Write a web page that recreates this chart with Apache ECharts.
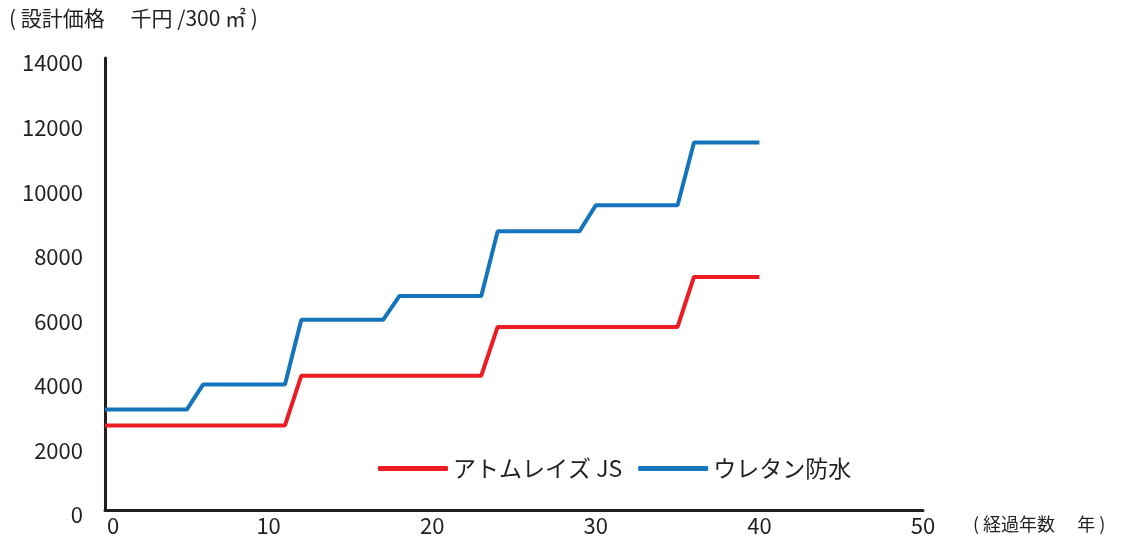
<!DOCTYPE html>
<html>
<head>
<meta charset="utf-8">
<script src="https://cdn.jsdelivr.net/npm/echarts@6/dist/echarts.min.js"></script>
<style>
  html, body { margin: 0; padding: 0; background: #fff; }
  #chart { width: 1128px; height: 538px; }
</style>
</head>
<body>
<div id="chart"></div>
<script>
var years = [0, 1, 2, 3, 4, 5, 6, 7, 8, 9, 10, 11, 12, 13, 14, 15, 16, 17, 18, 19, 20,
  21, 22, 23, 24, 25, 26, 27, 28, 29, 30, 31, 32, 33, 34, 35, 36, 37, 38, 39, 40];

var atomValues = [2620, 2620, 2620, 2620, 2620, 2620, 2620, 2620, 2620, 2620, 2620, 2620,
  4160, 4160, 4160, 4160, 4160, 4160, 4160, 4160, 4160, 4160, 4160, 4160,
  5670, 5670, 5670, 5670, 5670, 5670, 5670, 5670, 5670, 5670, 5670, 5670,
  7220, 7220, 7220, 7220, 7220];

var urethaneValues = [3110, 3110, 3110, 3110, 3110, 3110,
  3890, 3890, 3890, 3890, 3890, 3890,
  5890, 5890, 5890, 5890, 5890, 5890,
  6630, 6630, 6630, 6630, 6630, 6630,
  8630, 8630, 8630, 8630, 8630, 8630,
  9440, 9440, 9440, 9440, 9440, 9440,
  11380, 11380, 11380, 11380, 11380];

var seriesNames = ["アトムレイズ JS", "ウレタン防水"];
var yTicks = [0, 2000, 4000, 6000, 8000, 10000, 12000, 14000];
var xTicks = [0, 10, 20, 30, 40, 50];

(function() {
  var chart = echarts.init(document.getElementById("chart"));
  var font = "'Noto Sans CJK JP', 'Noto Sans', sans-serif";
  var textColor = "#231f20";

  function pairs(vals) {
    return years.map(function(y, i) {
      return [y, vals[i]];
    });
  }

  var option = {
    animation: false,
    textStyle: { fontFamily: font, color: textColor },
    grid: { left: 105, right: 205, top: 58, bottom: 28, outerBoundsMode: "none", containLabel: false },
    graphic: [
      {
        type: "text",
        left: 9,
        top: 8,
        style: {
          text: "( 設計価格　 千円 /300 ㎡ )",
          font: "21px " + font,
          fill: textColor
        }
      }
    ],
    legend: {
      left: 373,
      top: 452,
      icon: "roundRect",
      itemWidth: 70,
      itemHeight: 5,
      itemGap: 16,
      textStyle: { fontSize: 23, color: textColor, fontFamily: font },
      data: seriesNames
    },
    xAxis: {
      type: "value",
      min: xTicks[0],
      max: xTicks[xTicks.length - 1],
      interval: 10,
      name: "( 経過年数　 年 )",
      nameLocation: "end",
      nameGap: 50,
      nameTextStyle: {
        fontSize: 18,
        color: textColor,
        fontFamily: font,
        verticalAlign: "top",
        padding: [5, 0, 0, 0]
      },
      axisLine: { show: true, lineStyle: { color: textColor, width: 3 } },
      axisTick: { show: false },
      splitLine: { show: false },
      axisLabel: {
        fontSize: 22,
        color: textColor,
        margin: 5,
        formatter: function(v) {
          return v === 0 ? "{z|0}" : String(v);
        },
        rich: {
          z: { fontSize: 22, color: textColor, padding: [0, 0, 0, 16] }
        }
      }
    },
    yAxis: {
      type: "value",
      min: yTicks[0],
      max: yTicks[yTicks.length - 1],
      interval: 2000,
      axisLine: { show: true, lineStyle: { color: textColor, width: 3 } },
      axisTick: { show: false },
      splitLine: { show: false },
      axisLabel: {
        fontSize: 22,
        color: textColor,
        margin: 22,
        verticalAlign: "top",
        lineHeight: 10,
        formatter: function(v) {
          return String(v);
        }
      }
    },
    series: [
      {
        name: seriesNames[0],
        type: "line",
        symbol: "none",
        data: pairs(atomValues),
        lineStyle: { color: "#ed1c24", width: 4 },
        itemStyle: { color: "#ed1c24" }
      },
      {
        name: seriesNames[1],
        type: "line",
        symbol: "none",
        data: pairs(urethaneValues),
        lineStyle: { color: "#1474bc", width: 4 },
        itemStyle: { color: "#1474bc" }
      }
    ]
  };

  chart.setOption(option);
})();
</script>
</body>
</html>
